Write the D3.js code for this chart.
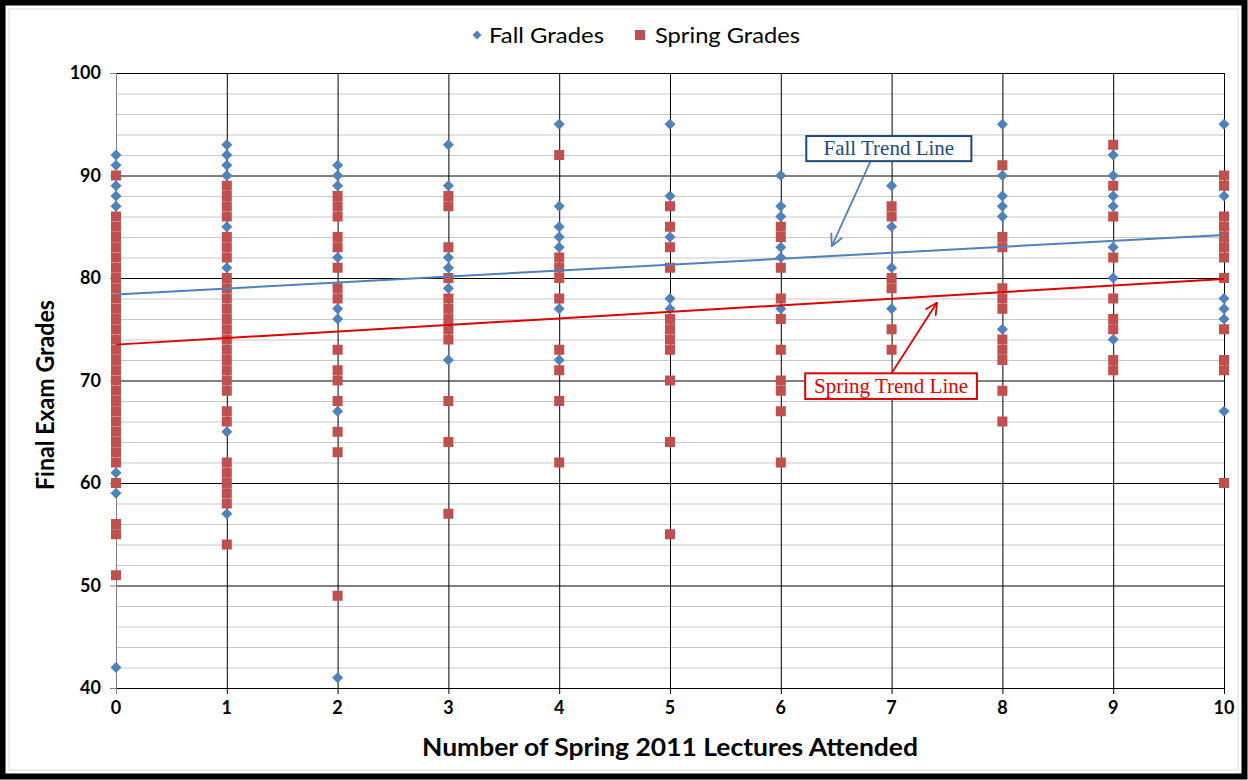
<!DOCTYPE html>
<html><head><meta charset="utf-8">
<script src="https://cdn.jsdelivr.net/npm/d3@7"></script>
<style>html,body{margin:0;padding:0;background:#fff;}svg{display:block;}</style>
</head><body>
<svg id="chart" width="1248" height="780"></svg>
<script>
const lectures = [0,1,2,3,4,5,6,7,8,9,10];
const fallGrades = [
  [92,91,89,88,87,61,59,42],
  [93,92,91,90,85,81,65,57],
  [91,90,89,82,77,76,67,41],
  [93,89,82,81,79,72],
  [95,87,85,84,83,77,72],
  [95,88,84,78,77],
  [90,87,86,83,82,77],
  [89,85,81,77],
  [95,90,88,87,86,75],
  [92,90,88,87,83,80,74],
  [95,88,78,77,76,67]
];
const springGrades = [
  [90,86,85,84,83,82,81,80,79,78,77,76,75,74,73,72,71,70,69,68,67,66,65,64,63,62,60,56,55,51],
  [89,88,87,86,84,83,82,80,79,78,77,76,75,74,73,72,71,70,69,67,66,62,61,60,59,58,54],
  [88,87,86,84,83,81,79,78,73,71,70,68,65,63,49],
  [88,87,83,80,78,77,76,75,74,68,64,57],
  [92,82,81,80,78,73,71,68,62],
  [87,85,83,81,76,75,74,73,70,64,55],
  [85,84,81,78,76,73,70,69,67,62],
  [87,86,80,79,75,73],
  [91,84,83,79,78,77,74,73,72,69,66],
  [93,89,86,82,78,76,75,72,71],
  [90,89,86,85,84,83,82,80,75,72,71,60]
];
const fallTrend = [78.4, 84.2];   // at x=0 and x=10
const springTrend = [73.5, 79.9];
const yTicks = [40,50,60,70,80,90,100];
const seriesNames = ["Fall Grades","Spring Grades"];
const xTitle = "Number of Spring 2011 Lectures Attended";
const yTitle = "Final Exam Grades";

const svg = d3.select("#chart");
const x = d3.scaleLinear().domain([0,10]).range([116,1224]);
const y = d3.scaleLinear().domain([40,100]).range([688,73]);
const blue = "#4f81bd", red = "#c0504d";
const font = "Lato, 'Open Sans', sans-serif";

// outer frame
svg.append("rect").attr("x",2.5).attr("y",2.5).attr("width",1242).attr("height",774)
  .attr("fill","#fff").attr("stroke","#000").attr("stroke-width",6);
svg.append("rect").attr("x",9).attr("y",9).attr("width",1229).attr("height",761)
  .attr("fill","none").attr("stroke","#d9d9d9").attr("stroke-width",1);

const g = svg.append("g");
g.selectAll("line.minor").data(d3.range(42,100,2).filter(v=>v%10!==0)).join("line")
  .attr("x1",x(0)).attr("x2",x(10)).attr("y1",d=>y(d)+0.5).attr("y2",d=>y(d)+0.5)
  .attr("stroke","#c8c8c8").attr("stroke-width",1);
g.selectAll("line.major").data(yTicks).join("line")
  .attr("x1",x(0)).attr("x2",x(10)).attr("y1",d=>y(d)+0.5).attr("y2",d=>y(d)+0.5)
  .attr("stroke","#000").attr("stroke-width",1);
g.selectAll("line.vert").data(lectures).join("line")
  .attr("x1",d=>x(d)+0.5).attr("x2",d=>x(d)+0.5).attr("y1",y(100)).attr("y2",y(40)+6)
  .attr("stroke",d=>d===0?"#808080":"#000").attr("stroke-width",1);
g.selectAll("line.yt").data(yTicks).join("line")
  .attr("x1",x(0)-6).attr("x2",x(0)).attr("y1",d=>y(d)+0.5).attr("y2",d=>y(d)+0.5)
  .attr("stroke","#808080");

g.selectAll("text.yl").data(yTicks).join("text")
  .attr("x",x(0)-15).attr("y",d=>y(d)+6).attr("text-anchor","end")
  .attr("font-family",font).attr("font-weight","bold").attr("font-size",18).text(d=>d);
g.selectAll("text.xl").data(lectures).join("text")
  .attr("x",d=>x(d)).attr("y",714).attr("text-anchor","middle")
  .attr("font-family",font).attr("font-weight","bold").attr("font-size",18).text(d=>d);

svg.append("text").attr("x",670).attr("y",756).attr("text-anchor","middle")
  .attr("font-family",font).attr("font-weight","bold").attr("font-size",24)
  .attr("textLength",496).attr("lengthAdjust","spacingAndGlyphs").text(xTitle);
svg.append("text").attr("transform","translate(54,395) rotate(-90)").attr("text-anchor","middle")
  .attr("font-family",font).attr("font-weight","bold").attr("font-size",24)
  .attr("textLength",190).attr("lengthAdjust","spacingAndGlyphs").text(yTitle);

const fallPts = fallGrades.flatMap((arr,i)=>arr.map(v=>({x:lectures[i],v})));
const springPts = springGrades.flatMap((arr,i)=>arr.map(v=>({x:lectures[i],v})));
const diamond = "M0,-5.5L5.5,0L0,5.5L-5.5,0Z";
g.selectAll("path.fall").data(fallPts).join("path")
  .attr("d",diamond).attr("transform",d=>`translate(${x(d.x)},${y(d.v)})`).attr("fill",blue);
g.selectAll("rect.spring").data(springPts).join("rect")
  .attr("x",d=>x(d.x)-5).attr("y",d=>y(d.v)-5).attr("width",10).attr("height",10).attr("fill",red);

svg.append("line").attr("x1",x(0)).attr("x2",x(10)).attr("y1",y(fallTrend[0])).attr("y2",y(fallTrend[1]))
  .attr("stroke",blue).attr("stroke-width",2);
svg.append("line").attr("x1",x(0)).attr("x2",x(10)).attr("y1",y(springTrend[0])).attr("y2",y(springTrend[1]))
  .attr("stroke","#e00000").attr("stroke-width",2);

const defs = svg.append("defs");
[["arrB",blue],["arrR","#e00000"]].forEach(([id,c])=>{
  defs.append("marker").attr("id",id).attr("viewBox","0 0 14 14").attr("refX",13).attr("refY",7)
    .attr("markerWidth",14).attr("markerHeight",14).attr("markerUnits","userSpaceOnUse").attr("orient","auto")
    .append("path").attr("d","M1,1L13,7L1,13").attr("fill","none").attr("stroke",c).attr("stroke-width",1.8);
});

function note(x0,x1,y0,y1,label,col,textCol,arrowCol,from,to,marker){
  svg.append("line").attr("x1",x(from[0])).attr("y1",y(from[1])).attr("x2",x(to[0])).attr("y2",y(to[1]))
    .attr("stroke",arrowCol).attr("stroke-width",1.8).attr("marker-end",`url(#${marker})`);
  svg.append("rect").attr("x",x(x0)).attr("y",y(y0)).attr("width",x(x1)-x(x0)).attr("height",y(y1)-y(y0))
    .attr("fill","#fff").attr("stroke",col).attr("stroke-width",2);
  svg.append("text").attr("x",(x(x0)+x(x1))/2).attr("y",(y(y0)+y(y1))/2+6.5).attr("text-anchor","middle")
    .attr("font-family","'Liberation Serif', serif").attr("font-size",21).attr("fill",textCol).text(label);
}
note(6.23,7.72,93.85,91.4,"Fall Trend Line","#1f497d","#1f497d",blue,[6.81,91.4],[6.46,83.1],"arrB");
note(6.22,7.77,70.7,68.2,"Spring Trend Line","#e00000","#e00000","#e00000",[7.0,70.7],[7.41,77.6],"arrR");

const lg = svg.append("g").attr("font-family",font).attr("font-size",22);
lg.append("path").attr("d","M0,-4.5L4.5,0L0,4.5L-4.5,0Z").attr("transform","translate(477,35)").attr("fill",blue);
lg.append("text").attr("x",489).attr("y",43).attr("textLength",115).attr("lengthAdjust","spacingAndGlyphs").text(seriesNames[0]);
lg.append("rect").attr("x",635).attr("y",30).attr("width",10).attr("height",10).attr("fill",red);
lg.append("text").attr("x",655).attr("y",43).attr("textLength",145).attr("lengthAdjust","spacingAndGlyphs").text(seriesNames[1]);
</script>
</body></html>
